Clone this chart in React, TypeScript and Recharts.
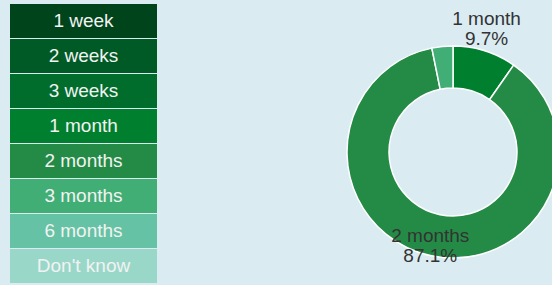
import React from 'react';
import { PieChart, Pie, Cell } from 'recharts';

const categories = ['1 week', '2 weeks', '3 weeks', '1 month', '2 months', '3 months', '6 months', "Don't know"];
const shares = [0, 0, 0, 9.7, 87.1, 3.2, 0, 0];
const colors = ['#00441b', '#005a25', '#006d2c', '#00802f', '#238b45', '#41ae76', '#66c2a4', '#99d8c9'];

const data = categories.map((name, i) => ({ name, value: shares[i] }));

const RADIAN = Math.PI / 180;

const renderLabel = (props: any) => {
  const { cx, cy, midAngle, outerRadius, percent, name } = props;
  // small slices get no label
  if (!percent || percent < 0.05) return null;
  const r = outerRadius + 6;
  const x = cx + r * Math.cos(midAngle * RADIAN);
  const y = cy - r * Math.sin(midAngle * RADIAN);
  return (
    <text x={x} y={y} textAnchor="middle" fill="#333333" fontSize={19}>
      <tspan x={x} dy={-20}>{name}</tspan>
      <tspan x={x} dy={20}>{(percent * 100).toFixed(1)}%</tspan>
    </text>
  );
};

export default function App() {
  return (
    <div
      style={{
        position: 'absolute',
        left: 0,
        top: 0,
        width: 552,
        height: 285,
        background: '#daecf2',
        fontFamily: '"Liberation Sans", Arial, sans-serif',
        overflow: 'hidden',
      }}
    >
      <div style={{ position: 'absolute', left: 10, top: 4, width: 147 }}>
        {categories.map((c, i) => (
          <div
            key={c}
            style={{
              height: 34,
              marginBottom: 1,
              background: colors[i],
              color: '#f2f2f2',
              fontSize: 19,
              lineHeight: '34px',
              textAlign: 'center',
            }}
          >
            {c}
          </div>
        ))}
      </div>
      <div style={{ position: 'absolute', left: 0, top: 0 }}>
        <PieChart width={552} height={285} margin={{ top: 0, right: 0, bottom: 0, left: 0 }}>
          <Pie
            data={data}
            dataKey="value"
            nameKey="name"
            cx={453}
            cy={152}
            innerRadius={64}
            outerRadius={106}
            startAngle={90}
            endAngle={-270}
            stroke="#ffffff"
            strokeWidth={1.5}
            label={renderLabel}
            labelLine={false}
            isAnimationActive={false}
          >
            {data.map((d, i) => (
              <Cell key={d.name} fill={colors[i]} />
            ))}
          </Pie>
        </PieChart>
      </div>
    </div>
  );
}
